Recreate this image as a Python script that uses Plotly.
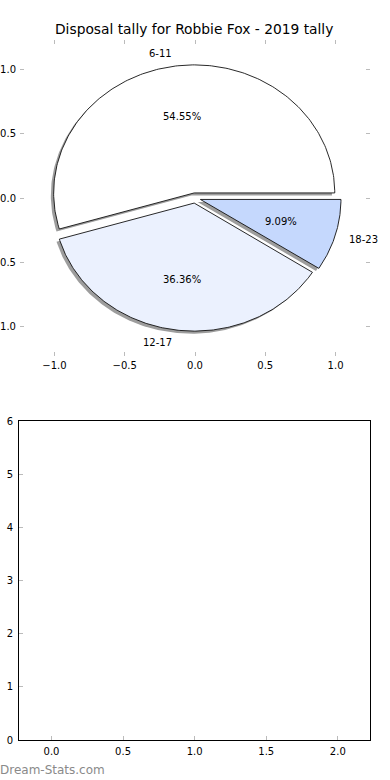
import numpy as np
import plotly.graph_objects as go

# ---- data ----
categories = ["6-11", "12-17", "18-23"]
counts = [6, 4, 1]
explode = [0.04, 0.04, 0.04]
colors = ["#ffffff", "#ebf1fe", "#c5d8fd"]
title = "Disposal tally for Robbie Fox - 2019 tally"
pie_ticks = [-1.0, -0.5, 0.0, 0.5, 1.0]
bottom_xticks = [0.0, 0.5, 1.0, 1.5, 2.0]
bottom_yticks = [0, 1, 2, 3, 4, 5, 6]

W, H = 390, 780
FONT = "DejaVu Sans"

def px_x(p):
    return p / W

def px_y(p):
    return 1 - p / H

fig = go.Figure()

total = sum(counts)
fracs = [c / total for c in counts]
theta0 = 0.0
shadow_traces = []
wedge_traces = []
annotations = []
for cat, frac, ex, col in zip(categories, fracs, explode, colors):
    t1 = theta0 + 360 * frac
    tm = np.deg2rad((theta0 + t1) / 2)
    cx, cy = ex * np.cos(tm), ex * np.sin(tm)
    ts = np.deg2rad(np.linspace(theta0, t1, 200))
    xs = np.concatenate([[cx], cx + np.cos(ts), [cx]])
    ys = np.concatenate([[cy], cy + np.sin(ts), [cy]])
    shadow_traces.append(go.Scatter(x=xs - 0.02, y=ys - 0.02, mode="lines", fill="toself",
                                    fillcolor="rgba(77,77,77,0.55)", line=dict(width=0),
                                    hoverinfo="skip", showlegend=False, xaxis="x", yaxis="y"))
    wedge_traces.append(go.Scatter(x=xs, y=ys, mode="lines", fill="toself", fillcolor=col,
                                   line=dict(color="#111111", width=0.9),
                                   hoverinfo="skip", showlegend=False, xaxis="x", yaxis="y"))
    lx = cx + 1.1 * np.cos(tm)
    ly = cy + 1.1 * np.sin(tm)
    annotations.append(dict(x=lx, y=ly, xref="x", yref="y", text=cat, showarrow=False,
                            xanchor="left" if lx > 0 else "right", yanchor="middle",
                            borderpad=0, borderwidth=0,
                            font=dict(family=FONT, size=10, color="black")))
    pxx = cx + 0.6 * np.cos(tm)
    pyy = cy + 0.6 * np.sin(tm)
    annotations.append(dict(x=pxx, y=pyy, xref="x", yref="y", text=f"{frac*100:.2f}%",
                            showarrow=False, xanchor="center", yanchor="middle",
                            borderpad=0, borderwidth=0,
                            font=dict(family=FONT, size=10, color="black")))
    theta0 = t1

for tr in shadow_traces + wedge_traces:
    fig.add_trace(tr)

# empty trace for bottom axes
fig.add_trace(go.Scatter(x=[], y=[], xaxis="x2", yaxis="y2", showlegend=False))

annotations.append(dict(x=px_x(194), y=px_y(29), xref="paper", yref="paper", text=title,
                        showarrow=False, xanchor="center", yanchor="middle",
                        font=dict(family=FONT, size=13.8, color="black")))
annotations.append(dict(x=0, y=px_y(770), xref="paper", yref="paper",
                        text="Dream-Stats.com", showarrow=False,
                        xanchor="left", yanchor="middle", borderpad=0, borderwidth=0,
                        font=dict(family=FONT, size=12, color="#8a8a8a")))

tickfont = dict(family=FONT, size=10, color="black")
fig.update_layout(
    width=W, height=H,
    margin=dict(l=0, r=0, t=0, b=0),
    paper_bgcolor="white", plot_bgcolor="white",
    showlegend=False,
    annotations=annotations,
    xaxis=dict(domain=[px_x(20), px_x(370)], range=[-1.245, 1.245], anchor="y",
               tickvals=pie_ticks, tickformat=".1f", ticks="inside", ticklen=4,
               tickcolor="#bbbbbb", tickwidth=1, showline=False, mirror="ticks",
               showgrid=False, zeroline=False, tickfont=tickfont, automargin=False,
               ticklabelstandoff=2),
    yaxis=dict(domain=[px_y(356), px_y(40)], range=[-1.234, 1.234], anchor="x",
               tickvals=pie_ticks, tickformat=".1f", ticks="inside", ticklen=4,
               tickcolor="#bbbbbb", tickwidth=1, showline=False, mirror="ticks",
               showgrid=False, zeroline=False, tickfont=tickfont, automargin=False,
               ticklabelstandoff=3),
    xaxis2=dict(domain=[px_x(19), px_x(370)], range=[-0.227, 2.225], anchor="y2",
                tickvals=bottom_xticks, tickformat=".1f", ticks="inside", ticklen=4,
                tickcolor="#bbbbbb", tickwidth=1, showline=True, linecolor="black",
                linewidth=1, mirror=True, showgrid=False, zeroline=False,
                tickfont=tickfont, automargin=False, ticklabelstandoff=2),
    yaxis2=dict(domain=[px_y(740), px_y(421)], range=[0, 6], anchor="x2",
                tickvals=bottom_yticks, tickformat="d", ticks="inside", ticklen=4,
                tickcolor="#bbbbbb", tickwidth=1, showline=True, linecolor="black",
                linewidth=1, mirror=True, showgrid=False, zeroline=False,
                tickfont=tickfont, automargin=False, ticklabelstandoff=3),
)

fig.write_html("out.html", config={"displayModeBar": False},
               post_script="document.body.style.margin='0';document.body.style.overflow='hidden';")
